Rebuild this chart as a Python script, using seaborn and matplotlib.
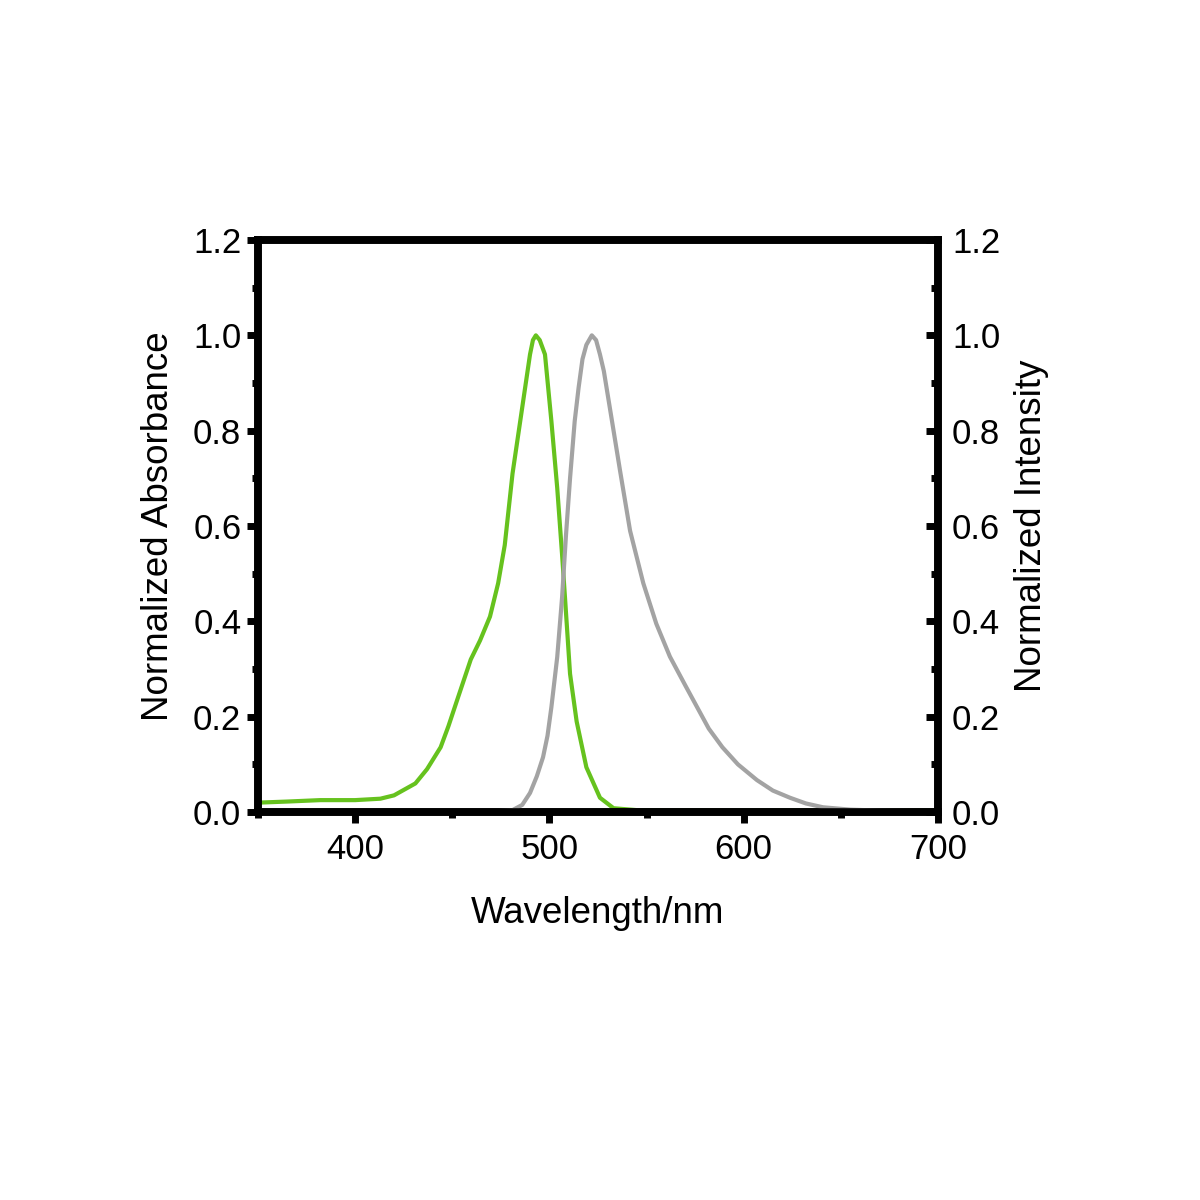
import numpy as np
import pandas as pd
import seaborn as sns
import matplotlib
matplotlib.use("Agg")
import matplotlib.pyplot as plt
from matplotlib.ticker import MultipleLocator

# absorbance spectrum (green)
abs_wl = [350, 352, 365, 382, 400, 413, 420, 431, 437, 444, 448, 452.5, 459.5, 464.3,
          469.4, 473.6, 477, 481, 486.4, 490, 491.5, 493, 495, 497.7, 501, 504,
          506.5, 508, 510.6, 514, 519, 526, 533, 545, 600, 700]
abs_val = [0.02, 0.02, 0.022, 0.025, 0.025, 0.028, 0.035, 0.06, 0.09, 0.136, 0.18, 0.235,
           0.32, 0.36, 0.41, 0.48, 0.56, 0.71, 0.86, 0.96, 0.99, 1.0, 0.99, 0.96,
           0.82, 0.68, 0.54, 0.45, 0.29, 0.19, 0.094, 0.03, 0.008, 0.004, 0.003, 0.003]

# emission spectrum (grey)
em_wl = [454, 470, 481, 486, 490, 493.5, 496.7, 499, 501, 504, 506.5, 508.5, 510.6,
         513, 515, 517, 519, 521.8, 524, 526, 528, 533, 536.3, 541.5, 548.3, 555, 562,
         570, 576, 582, 589, 597, 606.8, 615, 623.8, 632, 640.8, 655, 670, 690, 700]
em_val = [0, 0.001, 0.004, 0.015, 0.04, 0.075, 0.115, 0.16, 0.22, 0.325, 0.45, 0.58,
          0.70, 0.82, 0.89, 0.95, 0.98, 1.0, 0.99, 0.96, 0.925, 0.80, 0.717, 0.59, 0.48,
          0.395, 0.326, 0.265, 0.22, 0.175, 0.136, 0.1, 0.067, 0.045, 0.03, 0.018, 0.01,
          0.005, 0.003, 0.002, 0.002]

x_ticks = [400, 500, 600, 700]
y_ticks = [0.0, 0.2, 0.4, 0.6, 0.8, 1.0, 1.2]

df_abs = pd.DataFrame({'wl': abs_wl, 'val': abs_val})
df_em = pd.DataFrame({'wl': em_wl, 'val': em_val})

sns.set_style("white")
plt.rcParams['font.family'] = ['Liberation Sans', 'DejaVu Sans']
plt.rcParams['text.color'] = 'black'
plt.rcParams['axes.labelcolor'] = 'black'
plt.rcParams['xtick.color'] = 'black'
plt.rcParams['ytick.color'] = 'black'

fig = plt.figure(figsize=(12, 12), dpi=100)
ax = fig.add_axes([0.215, 0.3233, 0.5667, 0.4767])
ax2 = ax.twinx()

sns.lineplot(data=df_abs, x='wl', y='val', ax=ax, color='#66c21e', lw=3.0,
             estimator=None, sort=False)
sns.lineplot(data=df_em, x='wl', y='val', ax=ax2, color='#a3a3a3', lw=3.0,
             estimator=None, sort=False)

for a in (ax, ax2):
    a.set_xlim(350, 700)
    a.set_ylim(0, 1.2)
    a.set_yticks(y_ticks)
    a.set_yticklabels([f'{v:.1f}' for v in y_ticks])
    a.yaxis.set_minor_locator(MultipleLocator(0.1))
    for s in a.spines.values():
        s.set_linewidth(5.5)
        s.set_color('black')
        s.set_visible(True)

ax.set_xticks(x_ticks)
ax.set_xticklabels([str(v) for v in x_ticks])
ax.xaxis.set_minor_locator(MultipleLocator(50))

ax.tick_params(axis='y', which='major', pad=4)
ax.tick_params(axis='x', which='major', pad=7)
ax.tick_params(axis='both', which='major', direction='out', length=8, width=5,
               labelsize=25, colors='black', left=True, bottom=True)
ax.tick_params(axis='both', which='minor', direction='out', length=4, width=5,
               colors='black', left=True, bottom=True)
ax2.tick_params(axis='y', which='major', direction='in', length=9, width=5,
                labelsize=25, pad=10, colors='black', right=True)
ax2.tick_params(axis='y', which='minor', direction='in', length=5, width=5,
                colors='black', right=True)

ax.set_xlabel('Wavelength/nm', fontsize=26.5, labelpad=22, color='black')
ax.set_ylabel('Normalized Absorbance', fontsize=26.5, labelpad=12, color='black')
ax2.set_ylabel('Normalized Intensity', fontsize=26.5, labelpad=10, color='black')
ax.grid(False)
ax2.grid(False)

fig.savefig('out.png', dpi=100, facecolor='white')
